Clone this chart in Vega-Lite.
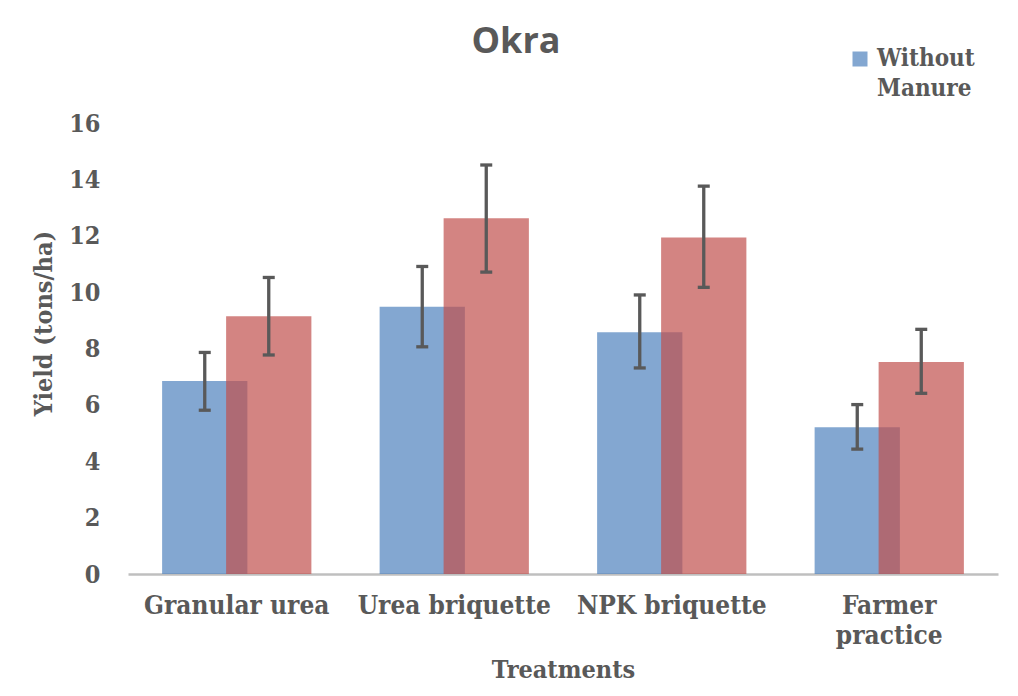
{
  "$schema": "https://vega.github.io/schema/vega-lite/v6.json",
  "autosize": "none",
  "width": 870,
  "height": 451,
  "padding": {"left": 128, "top": 123, "right": 20, "bottom": 122},
  "background": "white",
  "title": {"text": "Okra", "font": "Open Sans", "fontSize": 36, "fontWeight": "bold", "color": "#595959", "anchor": "middle", "dx": -47, "baseline": "alphabetic", "offset": -42},
  "data": {"values": [
    {"treatment": "Granular urea", "series": "Without Manure", "yield": 6.85, "lo": 5.81, "hi": 7.86},
    {"treatment": "Granular urea", "series": "With Manure", "yield": 9.14, "lo": 7.77, "hi": 10.52},
    {"treatment": "Urea briquette", "series": "Without Manure", "yield": 9.48, "lo": 8.06, "hi": 10.91},
    {"treatment": "Urea briquette", "series": "With Manure", "yield": 12.62, "lo": 10.71, "hi": 14.51},
    {"treatment": "NPK  briquette", "series": "Without Manure", "yield": 8.58, "lo": 7.31, "hi": 9.9},
    {"treatment": "NPK  briquette", "series": "With Manure", "yield": 11.94, "lo": 10.17, "hi": 13.76},
    {"treatment": "Farmer practice", "series": "Without Manure", "yield": 5.21, "lo": 4.43, "hi": 6.01},
    {"treatment": "Farmer practice", "series": "With Manure", "yield": 7.52, "lo": 6.41, "hi": 8.68}
  ]},
  "config": {
    "view": {"stroke": null},
    "style": {"guide-label": {"lineHeight": 30}},
    "axis": {"labelFont": "DejaVu Serif Condensed", "labelFontWeight": "bold", "labelFontSize": 25, "labelColor": "#595959", "labelLimit": 0, "titleFont": "DejaVu Serif Condensed", "titleFontWeight": "bold", "titleFontSize": 25, "titleColor": "#595959", "grid": false, "ticks": false, "tickSize": 0}
  },
  "encoding": {
    "x": {"field": "treatment", "type": "nominal", "sort": null,
      "scale": {"paddingInner": 0, "paddingOuter": 0},
      "axis": {"title": "Treatments", "labelAngle": 0, "labelPadding": 18, "labelLineHeight": 30, "labelFontSize": 26,
        "labelExpr": "datum.label == 'Farmer practice' ? ['Farmer', 'practice'] : datum.label",
        "domainColor": "#BFBFBF", "domainWidth": 2.5, "titleY": 83, "titleBaseline": "top"}},
    "y": {"type": "quantitative"}
  },
  "layer": [
    {
      "transform": [{"filter": "datum.series == 'Without Manure'"}],
      "mark": {"type": "bar", "width": {"band": 0.392}, "xOffset": -32, "opacity": 0.7},
      "encoding": {
        "y": {"field": "yield", "type": "quantitative", "scale": {"domain": [0, 16], "nice": false},
          "axis": {"title": "Yield (tons/ha)", "domain": false, "values": [0, 2, 4, 6, 8, 10, 12, 14, 16], "labelPadding": 28,
            "titleX": -85, "titleY": 200, "titleAngle": -90, "titleAlign": "center", "titleBaseline": "middle"}},
        "color": {"field": "series", "type": "nominal",
          "scale": {"domain": ["Without Manure", "With Manure"], "range": ["#4F81BD", "#C0504D"]},
          "legend": {"title": null, "values": ["Without Manure"], "orient": "none", "legendX": 720, "legendY": -76,
            "symbolType": "square", "symbolSize": 225, "symbolOpacity": 0.7, "symbolStrokeWidth": 0,
            "labelFont": "DejaVu Serif Condensed", "labelFontWeight": "bold", "labelFontSize": 24, "labelColor": "#595959",
            "labelOffset": 5, "labelExpr": "split(datum.label, ' ')"}}
      }
    },
    {
      "transform": [{"filter": "datum.series == 'With Manure'"}],
      "mark": {"type": "bar", "width": {"band": 0.392}, "xOffset": 32, "opacity": 0.7},
      "encoding": {
        "y": {"field": "yield", "type": "quantitative"},
        "color": {"field": "series", "type": "nominal"}
      }
    },
    {
      "transform": [{"filter": "datum.series == 'Without Manure'"}],
      "mark": {"type": "rule", "xOffset": -32, "color": "#595959", "strokeWidth": 3.3},
      "encoding": {"y": {"field": "lo", "type": "quantitative"}, "y2": {"field": "hi"}}
    },
    {
      "transform": [{"filter": "datum.series == 'With Manure'"}],
      "mark": {"type": "rule", "xOffset": 32, "color": "#595959", "strokeWidth": 3.3},
      "encoding": {"y": {"field": "lo", "type": "quantitative"}, "y2": {"field": "hi"}}
    },
    {
      "transform": [{"filter": "datum.series == 'Without Manure'"}],
      "mark": {"type": "tick", "xOffset": -32, "color": "#595959", "size": 12, "thickness": 3.3, "opacity": 1},
      "encoding": {"y": {"field": "lo", "type": "quantitative"}}
    },
    {
      "transform": [{"filter": "datum.series == 'Without Manure'"}],
      "mark": {"type": "tick", "xOffset": -32, "color": "#595959", "size": 12, "thickness": 3.3, "opacity": 1},
      "encoding": {"y": {"field": "hi", "type": "quantitative"}}
    },
    {
      "transform": [{"filter": "datum.series == 'With Manure'"}],
      "mark": {"type": "tick", "xOffset": 32, "color": "#595959", "size": 12, "thickness": 3.3, "opacity": 1},
      "encoding": {"y": {"field": "lo", "type": "quantitative"}}
    },
    {
      "transform": [{"filter": "datum.series == 'With Manure'"}],
      "mark": {"type": "tick", "xOffset": 32, "color": "#595959", "size": 12, "thickness": 3.3, "opacity": 1},
      "encoding": {"y": {"field": "hi", "type": "quantitative"}}
    }
  ]
}
